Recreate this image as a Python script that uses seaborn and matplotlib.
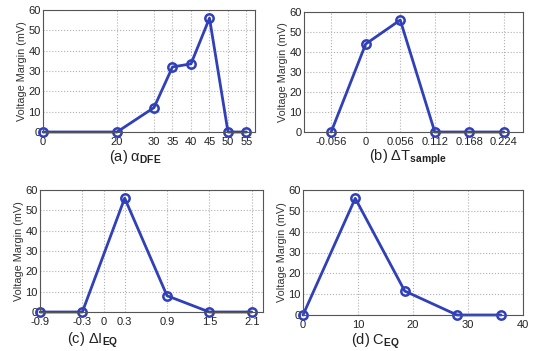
import matplotlib
matplotlib.use("Agg")
import matplotlib.pyplot as plt
import seaborn as sns
import pandas as pd

# Data
a_x = [0, 20, 30, 35, 40, 45, 50, 55]
a_y = [0, 0, 12, 32, 33.5, 56, 0, 0]
a_ticks = [0, 20, 30, 35, 40, 45, 50, 55]
a_ticklabels = ["0", "20", "30", "35", "40", "45", "50", "55"]

b_x = [-0.056, 0, 0.056, 0.112, 0.168, 0.224]
b_y = [0, 44, 56, 0, 0, 0]
b_ticks = [-0.056, 0, 0.056, 0.112, 0.168, 0.224]
b_ticklabels = ["-0.056", "0", "0.056", "0.112", "0.168", "0.224"]

c_x = [-0.9, -0.3, 0.3, 0.9, 1.5, 2.1]
c_y = [0, 0, 56, 8, 0, 0]
c_ticks = [-0.9, -0.3, 0, 0.3, 0.9, 1.5, 2.1]
c_ticklabels = ["-0.9", "-0.3", "0", "0.3", "0.9", "1.5", "2.1"]

d_x = [0, 9.5, 18.5, 28, 36]
d_y = [0, 56, 11.5, 0, 0]
d_ticks = [0, 10, 20, 30, 40]
d_ticklabels = ["0", "10", "20", "30", "40"]

y_ticks = [0, 10, 20, 30, 40, 50, 60]
ylabel = "Voltage Margin (mV)"
captions = ["(a) α$_{\\mathbf{DFE}}$", "(b) ΔT$_{\\mathbf{sample}}$",
            "(c) ΔI$_{\\mathbf{EQ}}$", "(d) C$_{\\mathbf{EQ}}$"]

sns.set_style("white")
plt.rcParams["font.family"] = ["Liberation Sans", "DejaVu Sans"]
plt.rcParams["mathtext.fontset"] = "custom"
plt.rcParams["mathtext.rm"] = "Liberation Sans"
plt.rcParams["mathtext.it"] = "Liberation Sans:italic"
plt.rcParams["mathtext.bf"] = "Liberation Sans:bold"

W, H = 536, 351
fig = plt.figure(figsize=(W / 100, H / 100), dpi=100)

def box(l, r, t, b):
    return [l / W, 1 - b / H, (r - l) / W, (b - t) / H]

panels = [
    (a_x, a_y, a_ticks, a_ticklabels, (0, 57.3), box(43, 255, 10, 132), (135, 157)),
    (b_x, b_y, b_ticks, b_ticklabels, (-0.1, 0.255), box(304, 523, 12, 132), (408, 157)),
    (c_x, c_y, c_ticks, c_ticklabels, (-0.9, 2.26), box(40, 263, 190, 312), (93, 340)),
    (d_x, d_y, d_ticks, d_ticklabels, (0, 40), box(303, 523, 190, 315), (375, 341)),
]

color = "#3040b8"
for i, (x, y, ticks, tl, xlim, rect, cap) in enumerate(panels):
    ax = fig.add_axes(rect)
    df = pd.DataFrame({"x": x, "y": y})
    sns.lineplot(data=df, x="x", y="y", ax=ax, color=color, linewidth=2,
                 marker="o", markersize=6, markerfacecolor="none",
                 markeredgecolor=color, markeredgewidth=1.8)
    ax.set_xlim(*xlim)
    ax.set_ylim(0, 60)
    ax.set_xticks(ticks)
    ax.set_xticklabels(tl)
    ax.set_yticks(y_ticks)
    ax.tick_params(axis="x", labelsize=8, length=0, pad=3.5, colors="#222222")
    ax.tick_params(axis="y", labelsize=8, length=0, pad=1.5, colors="#222222")
    ax.grid(True, linestyle=":", color="#b0b0b0", linewidth=0.8)
    ax.set_xlabel("")
    ax.set_ylabel(ylabel, fontsize=7.8, color="#333333", labelpad=1)
    for s in ax.spines.values():
        s.set_color("#555555")
        s.set_linewidth(0.8)
    for ln in ax.lines:
        ln.set_clip_on(False)
    fig.text(cap[0] / W, 1 - cap[1] / H, captions[i], ha="center", va="center",
             fontsize=10.5, color="#222222")

fig.savefig("out.png", dpi=100)
